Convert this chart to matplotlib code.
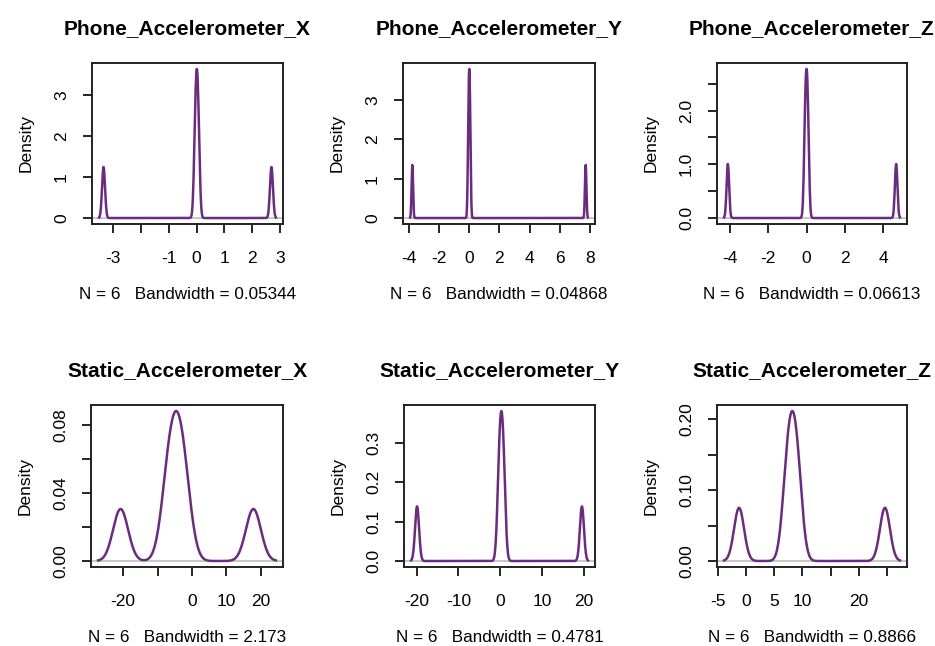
import numpy as np
import matplotlib
matplotlib.use("Agg")
import matplotlib.pyplot as plt

plt.rcParams['font.family'] = ['Liberation Sans', 'DejaVu Sans']

titles = ["Phone_Accelerometer_X", "Phone_Accelerometer_Y", "Phone_Accelerometer_Z",
          "Static_Accelerometer_X", "Static_Accelerometer_Y", "Static_Accelerometer_Z"]
phone_x = [-3.34, -0.05, -0.01, 0.03, 0.07, 2.69]
phone_y = [-3.78, -0.06, -0.02, 0.02, 0.06, 7.73]
phone_z = [-4.09, -0.08, -0.03, 0.03, 0.08, 4.66]
static_x = [-20.7, -7.1, -5.45, -3.75, -2.1, 17.8]
static_y = [-19.9, -0.3, 0.1, 0.5, 0.9, 19.6]
static_z = [-1.23, 7.14, 7.84, 8.56, 9.26, 24.6]
bandwidths = [0.05344, 0.04868, 0.06613, 2.173, 0.4781, 0.8866]
bw_labels = ["0.05344", "0.04868", "0.06613", "2.173", "0.4781", "0.8866"]

xticks = [[-3, -2, -1, 0, 1, 2, 3], [-4, -2, 0, 2, 4, 6, 8], [-4, -2, 0, 2, 4],
          [-20, -10, 0, 10, 20], [-20, -10, 0, 10, 20], [-5, 0, 5, 10, 15, 20, 25]]
xlabels = [["-3", "", "-1", "0", "1", "2", "3"], ["-4", "-2", "0", "2", "4", "6", "8"],
           ["-4", "-2", "0", "2", "4"], ["-20", "", "0", "10", "20"],
           ["-20", "-10", "0", "10", "20"], ["-5", "0", "5", "10", "", "20", ""]]
yticks = [[0, 1, 2, 3], [0, 1, 2, 3], [0, 0.5, 1.0, 1.5, 2.0, 2.5],
          [0, 0.02, 0.04, 0.06, 0.08], [0, 0.1, 0.2, 0.3], [0, 0.05, 0.10, 0.15, 0.20]]
ylabels = [["0", "1", "2", "3"], ["0", "1", "2", "3"], ["0.0", "", "1.0", "", "2.0", ""],
           ["0.00", "", "0.04", "", "0.08"], ["0.0", "0.1", "0.2", "0.3"],
           ["0.00", "", "0.10", "", "0.20"]]

samples = [phone_x, phone_y, phone_z, static_x, static_y, static_z]

# box positions in pixels (left, right, top, bottom)
W, H = 935, 646
boxes = [(92, 283, 63, 224), (403, 595, 63, 224), (717, 907, 63, 224),
         (91, 283, 405, 567), (404, 595, 405, 567), (717, 907, 405, 567)]

line_col = "#6b2c7f"


def kde(data, bw, n=512):
	data = np.asarray(data)
	grid = np.linspace(data.min() - 3 * bw, data.max() + 3 * bw, n)
	z = (grid[:, None] - data[None, :]) / bw
	dens = np.exp(-0.5 * z ** 2).sum(axis=1) / (len(data) * bw * np.sqrt(2 * np.pi))
	return grid, dens


fig = plt.figure(figsize=(W / 100, H / 100), dpi=100)

for i in range(6):
	l, r, t, b = boxes[i]
	ax = fig.add_axes([l / W, 1 - b / H, (r - l) / W, (b - t) / H])
	x, y = kde(samples[i], bandwidths[i])
	ax.axhline(0, color="#bebebe", lw=1.2, zorder=1)
	ax.plot(x, y, color=line_col, lw=1.8, zorder=2)
	ax.margins(x=0.04, y=0.04)
	ax.set_xticks(xticks[i])
	ax.set_xticklabels(xlabels[i])
	ax.set_yticks(yticks[i])
	ax.set_yticklabels(ylabels[i], rotation=90, va="center")
	ax.tick_params(direction="out", length=6.5, width=1.2, labelsize=12.5)
	ax.tick_params(axis="x", pad=13)
	ax.tick_params(axis="y", pad=10)
	for s in ax.spines.values():
		s.set_linewidth(1.4)
		s.set_color("#222222")
	ax.set_title(titles[i], fontsize=15, fontweight="bold", pad=21)
	ax.set_ylabel("Density", fontsize=12.5, labelpad=15)
	ax.set_xlabel("N = 6   Bandwidth = " + bw_labels[i], fontsize=12.3, labelpad=15)

fig.savefig("out.png", dpi=100, facecolor="white")
